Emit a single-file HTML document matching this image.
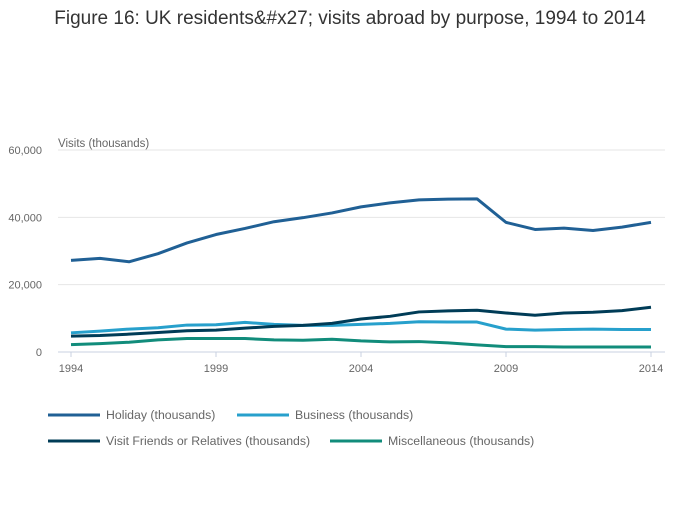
<!DOCTYPE html>
<html><head><meta charset="utf-8"><style>
body{margin:0;background:#fff;font-family:"Liberation Sans","DejaVu Sans",sans-serif;}
svg text{font-family:"Liberation Sans","DejaVu Sans",sans-serif;}
</style></head><body>
<svg id="chart" width="700" height="502">
<text x="350" y="24" text-anchor="middle" font-size="19" fill="#333">Figure 16: UK residents&amp;#x27; visits abroad by purpose, 1994 to 2014</text>
<text x="58" y="147" font-size="11.5" fill="#666">Visits (thousands)</text>
<g id="grid"></g><g id="series"></g><g id="legend"></g>
</svg>
<script>
const years=[1994,1995,1996,1997,1998,1999,2000,2001,2002,2003,2004,2005,2006,2007,2008,2009,2010,2011,2012,2013,2014];
const holiday=[27200,27800,26800,29200,32400,34900,36700,38700,39900,41300,43100,44300,45200,45400,45500,38500,36400,36800,36100,37100,38500];
const business=[5700,6200,6800,7200,8000,8100,8800,8200,7900,7900,8200,8500,9000,8900,8900,6800,6500,6700,6800,6700,6700];
const vfr=[4700,4900,5300,5800,6300,6500,7100,7600,7900,8500,9800,10600,11900,12200,12400,11600,10900,11600,11800,12300,13300];
const misc=[2200,2500,2900,3600,4000,4000,4000,3600,3500,3800,3300,3000,3100,2700,2100,1600,1600,1500,1500,1500,1500];
const yTicks=[0,20000,40000,60000];
const yTickLabels=["0","20,000","40,000","60,000"];
const xTicks=[1994,1999,2004,2009,2014];
const NS="http://www.w3.org/2000/svg";
const x=v=>71+(v-1994)/20*580;
const y=v=>352-v/60000*202;
function mk(t,a,p){const e=document.createElementNS(NS,t);for(const k in a)e.setAttribute(k,a[k]);p.appendChild(e);return e;}
const grid=document.getElementById('grid');
yTicks.forEach((t,i)=>{
 const l=mk('line',{x1:58,x2:665,y1:y(t),y2:y(t),stroke:t===0?'#c8d0e0':'#e6e6e6','stroke-width':1},grid);
 
 
 const tx=mk('text',{x:42,y:y(t)+4,'text-anchor':'end','font-size':11,fill:'#666'},grid);
 tx.textContent=yTickLabels[i];
 
 
});
xTicks.forEach(t=>{
 const l=mk('line',{x1:x(t),x2:x(t),y1:352,y2:357,stroke:'#c8d0e0'},grid);
 
 
 const tx=mk('text',{x:x(t),y:372,'text-anchor':'middle','font-size':11,fill:'#666'},grid);
 tx.textContent=t;
 
 
});
const series=[[holiday,'#206095','Holiday (thousands)','holiday-line'],[business,'#27a0cc','Business (thousands)','business-line'],[vfr,'#003c57','Visit Friends or Relatives (thousands)','vfr-line'],[misc,'#118c7b','Miscellaneous (thousands)','misc-line']];
const sg=document.getElementById('series'),lg=document.getElementById('legend');
const legPos=[[48,415],[237,415],[48,441],[330,441]];
series.forEach((s,i)=>{
 const p=mk('polyline',{points:years.map((yr,j)=>x(yr)+','+y(s[0][j])).join(' '),fill:'none',stroke:s[1],'stroke-width':3,'stroke-linejoin':'round'},sg);
 
 
 const g=mk('g',{},lg);
 
 
 const [lx,ly]=legPos[i];
 mk('line',{x1:lx,x2:lx+52,y1:ly,y2:ly,stroke:s[1],'stroke-width':3},g);
 const t=mk('text',{x:lx+58,y:ly+4,'font-size':12.3,fill:'#666'},g);
 t.textContent=s[2];
});
</script>
</body></html>
